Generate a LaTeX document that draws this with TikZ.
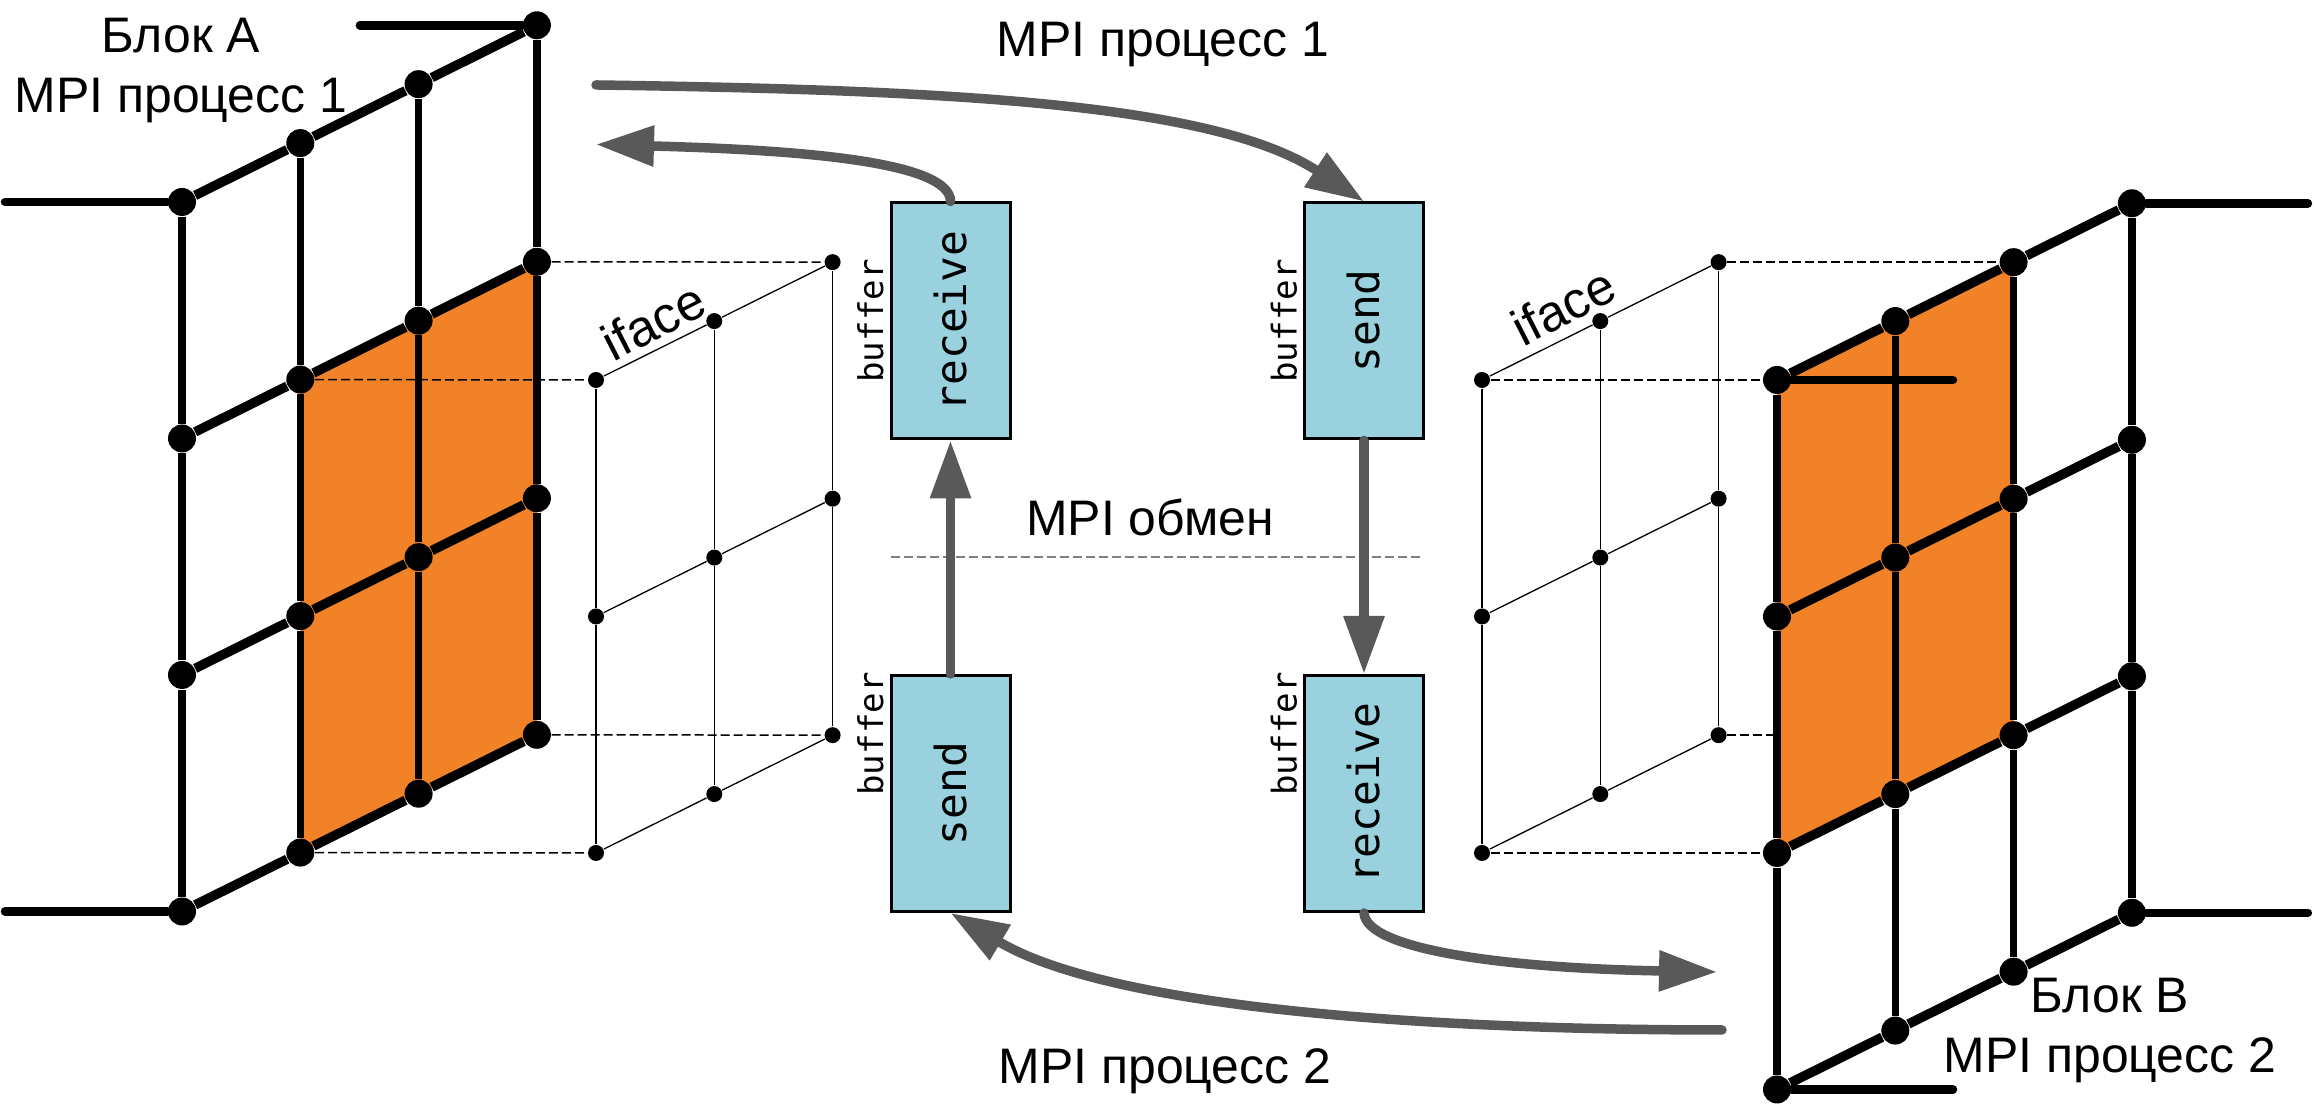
\documentclass[tikz,border=0pt]{standalone}
\usepackage{fontspec}
\usepackage{graphicx}
\setmainfont{Liberation Sans}
\setmonofont{DejaVu Sans Mono}
\usetikzlibrary{positioning,arrows.meta,backgrounds}
\definecolor{blockorange}{HTML}{F28227}
\definecolor{bufblue}{HTML}{9AD1DE}
\definecolor{arrowgray}{HTML}{595959}

\begin{document}
\begin{tikzpicture}[
        on grid,
        node distance=0.589cm and 1.183cm,
        every node/.style={inner sep=0pt},
        bigdot/.style={circle, fill=black, minimum size=0.28cm},
        smalldot/.style={circle, fill=black, minimum size=0.16cm},
        bufbox/.style={
            draw=black,
            line width=0.03cm,
            fill=bufblue,
            minimum width=1.19cm,
            minimum height=2.36cm,
            font=\fontsize{12.2}{14}\selectfont\ttfamily
        },
        buflabel/.style={rotate=90, font=\fontsize{9.7}{12}\selectfont\ttfamily},
        textlabel/.style={align=center, font=\fontsize{14.2}{17.07}\selectfont},
        ifacelabel/.style={rotate=27, font=\fontsize{14.6}{17}\selectfont},
        diagline/.style={line width=0.095cm},
        vertline/.style={line width=0.075cm},
        stubline/.style={line width=0.085cm, line cap=round},
        thinline/.style={line width=0.013cm},
        guideline/.style={line width=0.015cm, dash pattern=on 0.09cm off 0.04cm},
        exchangeline/.style={line width=0.012cm, draw=gray, dash pattern=on 0.09cm off 0.04cm},
        mpiarrow/.style={
            -{Triangle[length=0.58cm,width=0.39cm]},
            line width=0.095cm,
            line cap=round,
            draw=arrowgray
        }
    ]
        \useasboundingbox (0,0) rectangle (23.14,11.04);

        % Block A
        \node[bigdot] at (1.82,9.02) (a11) {};
        \node[bigdot, above right=of a11] (a12) {};
        \node[bigdot, above right=of a12] (a13) {};
        \node[bigdot, above right=of a13] (a14) {};
        \node[bigdot, below=2.365cm of a11] (a21) {};
        \node[bigdot, above right=of a21] (a22) {};
        \node[bigdot, above right=of a22] (a23) {};
        \node[bigdot, above right=of a23] (a24) {};
        \node[bigdot, below=2.365cm of a21] (a31) {};
        \node[bigdot, above right=of a31] (a32) {};
        \node[bigdot, above right=of a32] (a33) {};
        \node[bigdot, above right=of a33] (a34) {};
        \node[bigdot, below=2.365cm of a31] (a41) {};
        \node[bigdot, above right=of a41] (a42) {};
        \node[bigdot, above right=of a42] (a43) {};
        \node[bigdot, above right=of a43] (a44) {};

        % Block B
        \node[bigdot] at (17.77,7.24) (b11) {};
        \node[bigdot, above right=of b11] (b12) {};
        \node[bigdot, above right=of b12] (b13) {};
        \node[bigdot, above right=of b13] (b14) {};
        \node[bigdot, below=2.365cm of b11] (b21) {};
        \node[bigdot, above right=of b21] (b22) {};
        \node[bigdot, above right=of b22] (b23) {};
        \node[bigdot, above right=of b23] (b24) {};
        \node[bigdot, below=2.365cm of b21] (b31) {};
        \node[bigdot, above right=of b31] (b32) {};
        \node[bigdot, above right=of b32] (b33) {};
        \node[bigdot, above right=of b33] (b34) {};
        \node[bigdot, below=2.365cm of b31] (b41) {};
        \node[bigdot, above right=of b41] (b42) {};
        \node[bigdot, above right=of b42] (b43) {};
        \node[bigdot, above right=of b43] (b44) {};

        % Interface of block A
        \node[smalldot] at (5.96,7.24) (c11) {};
        \node[smalldot, above right=of c11] (c12) {};
        \node[smalldot, above right=of c12] (c13) {};
        \node[smalldot, below=2.365cm of c11] (c21) {};
        \node[smalldot, above right=of c21] (c22) {};
        \node[smalldot, above right=of c22] (c23) {};
        \node[smalldot, below=2.365cm of c21] (c31) {};
        \node[smalldot, above right=of c31] (c32) {};
        \node[smalldot, above right=of c32] (c33) {};

        % Interface of block B
        \node[smalldot] at (14.82,7.24) (d11) {};
        \node[smalldot, above right=of d11] (d12) {};
        \node[smalldot, above right=of d12] (d13) {};
        \node[smalldot, below=2.365cm of d11] (d21) {};
        \node[smalldot, above right=of d21] (d22) {};
        \node[smalldot, above right=of d22] (d23) {};
        \node[smalldot, below=2.365cm of d21] (d31) {};
        \node[smalldot, above right=of d31] (d32) {};
        \node[smalldot, above right=of d32] (d33) {};

        % Buffers
        \node[bufbox] at (9.505,7.83) (recvleft) {\rotatebox{90}{receive}};
        \node[bufbox] at (13.64,7.83) (sendright) {\rotatebox{90}{send}};
        \node[bufbox] at (9.505,3.105) (sendleft) {\rotatebox{90}{send}};
        \node[bufbox] at (13.64,3.105) (recvright) {\rotatebox{90}{receive}};
        \node[buflabel, left=0.8cm of recvleft] (bufa) {buffer};
        \node[buflabel, left=0.8cm of sendright] (bufb) {buffer};
        \node[buflabel, above left=0.595cm and 0.8cm of sendleft] (bufc) {buffer};
        \node[buflabel, above left=0.595cm and 0.8cm of recvright] (bufd) {buffer};

        % Labels
        \node[textlabel] at (1.81,10.33) (labela) {Блок А\\[0pt]MPI процесс 1};
        \node[textlabel] at (11.63,10.59) (labelone) {MPI процесс 1};
        \node[textlabel] at (11.5,5.87) (labelswap) {MPI обмен};
        \node[textlabel] at (11.65,0.33) (labeltwo) {MPI процесс 2};
        \node[textlabel] at (21.1,0.73) (labelb) {Блок В\\[0pt]MPI процесс 2};
        \node[ifacelabel, left=0.61cm of c12] (ifacea) {iface};
        \node[ifacelabel, above left=0.15cm and 0.37cm of d12] (ifaceb) {iface};

        % Free ends
        \coordinate[left=1.77cm of a11] (stuba);
        \coordinate[left=1.77cm of a14] (stubb);
        \coordinate[left=1.77cm of a41] (stubc);
        \coordinate[right=1.76cm of b11] (stubd);
        \coordinate[right=1.76cm of b14] (stube);
        \coordinate[right=1.76cm of b41] (stubf);
        \coordinate[right=1.76cm of b44] (stubg);
        \coordinate (swapleft) at (8.91,5.47);
        \coordinate (swapright) at (14.23,5.47);
        \coordinate (startone) at (5.96,10.19);
        \coordinate (endone) at (5.96,9.595);
        \coordinate (starttwo) at (17.22,0.74);
        \coordinate (endtwo) at (17.17,1.32);

        % Orange faces and guides
        \begin{scope}[on background layer]
            \fill[blockorange] (a22.center) -- (a24.center) -- (a44.center) -- (a42.center) -- cycle;
            \draw[guideline] (a22) -- (c11);
            \draw[guideline] (a24) -- (c13);
            \draw[guideline] (a42) -- (c31);
            \draw[guideline] (a44) -- (c33);
            \draw[guideline] (d11) -- (b11);
            \draw[guideline] (d13) -- (b13);
            \draw[guideline] (d31) -- (b31);
            \draw[guideline] (d33) -- (b33);
            \fill[blockorange] (b11.center) -- (b13.center) -- (b33.center) -- (b31.center) -- cycle;
        \end{scope}

        % Block A grid
        \draw[diagline] (a11) -- (a12) -- (a13) -- (a14);
        \draw[diagline] (a21) -- (a22) -- (a23) -- (a24);
        \draw[diagline] (a31) -- (a32) -- (a33) -- (a34);
        \draw[diagline] (a41) -- (a42) -- (a43) -- (a44);
        \draw[vertline] (a11) -- (a21) -- (a31) -- (a41);
        \draw[vertline] (a12) -- (a22) -- (a32) -- (a42);
        \draw[vertline] (a13) -- (a23) -- (a33) -- (a43);
        \draw[vertline] (a14) -- (a24) -- (a34) -- (a44);

        % Block B grid
        \draw[diagline] (b11) -- (b12) -- (b13) -- (b14);
        \draw[diagline] (b21) -- (b22) -- (b23) -- (b24);
        \draw[diagline] (b31) -- (b32) -- (b33) -- (b34);
        \draw[diagline] (b41) -- (b42) -- (b43) -- (b44);
        \draw[vertline] (b11) -- (b21) -- (b31) -- (b41);
        \draw[vertline] (b12) -- (b22) -- (b32) -- (b42);
        \draw[vertline] (b13) -- (b23) -- (b33) -- (b43);
        \draw[vertline] (b14) -- (b24) -- (b34) -- (b44);

        % Stubs
        \draw[stubline] (stuba) -- (a11);
        \draw[stubline] (stubb) -- (a14);
        \draw[stubline] (stubc) -- (a41);
        \draw[stubline] (b11) -- (stubd);
        \draw[stubline] (b14) -- (stube);
        \draw[stubline] (b41) -- (stubf);
        \draw[stubline] (b44) -- (stubg);

        % Interface grids
        \draw[thinline] (c11) -- (c12) -- (c13);
        \draw[thinline] (c21) -- (c22) -- (c23);
        \draw[thinline] (c31) -- (c32) -- (c33);
        \draw[thinline] (c11) -- (c21) -- (c31);
        \draw[thinline] (c12) -- (c22) -- (c32);
        \draw[thinline] (c13) -- (c23) -- (c33);
        \draw[thinline] (d11) -- (d12) -- (d13);
        \draw[thinline] (d21) -- (d22) -- (d23);
        \draw[thinline] (d31) -- (d32) -- (d33);
        \draw[thinline] (d11) -- (d21) -- (d31);
        \draw[thinline] (d12) -- (d22) -- (d32);
        \draw[thinline] (d13) -- (d23) -- (d33);

        % Exchange
        \draw[exchangeline] (swapleft) -- (swapright);
        \draw[mpiarrow] (sendleft.north) -- (recvleft.south);
        \draw[mpiarrow] (sendright.south) -- (recvright.north);
        \draw[mpiarrow] (startone) .. controls +(3.54,-0.05) and +(-1.5,0.98) .. (sendright.north);
        \draw[mpiarrow] (recvleft.north) .. controls +(0,0.40) and +(2.04,-0.055) .. (endone);
        \draw[mpiarrow] (starttwo) .. controls +(-2.72,0) and +(1.65,-0.98) .. (sendleft.south);
        \draw[mpiarrow] (recvright.south) .. controls +(0.02,-0.36) and +(-2.17,0.04) .. (endtwo);
    \end{tikzpicture}
\end{document}
